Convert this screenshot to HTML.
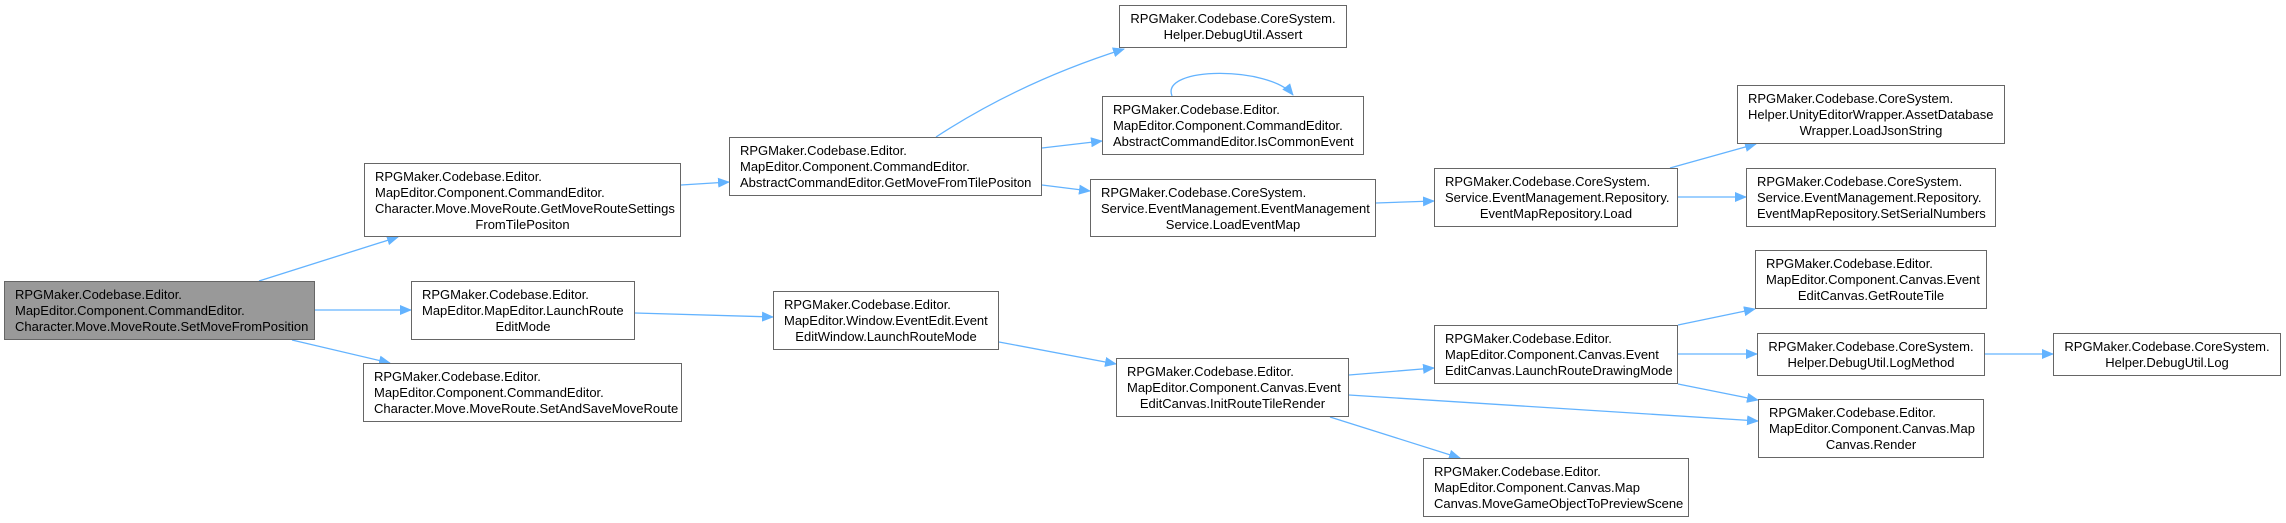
<!DOCTYPE html>
<html><head><meta charset="utf-8"><style>
body{margin:0;width:2286px;height:523px;background:#fff;position:relative;overflow:hidden;font-family:"Liberation Sans",Arial,sans-serif;}
.n{position:absolute;box-sizing:border-box;border:1px solid #666;background:#fff;padding:5px 0 0 0;font-size:13px;line-height:16px;color:#000;white-space:nowrap;}
.n div{padding:0 6px 0 10px;}
.n .c{text-align:center;padding:0 6px;}
svg{position:absolute;left:0;top:0;}
</style></head><body>
<svg width="2286" height="523" viewBox="0 0 2286 523">
<defs><marker id="a" markerWidth="12" markerHeight="10" refX="11" refY="5" orient="auto" markerUnits="userSpaceOnUse"><path d="M0,0 L12,5 L0,10 z" fill="#63b3ff"/></marker></defs>
<g stroke="#63b3ff" stroke-width="1.3" fill="none" marker-end="url(#a)">
<line x1="259" y1="281" x2="398" y2="237"/>
<line x1="315" y1="310" x2="411" y2="310"/>
<line x1="292" y1="340" x2="390" y2="363"/>
<line x1="681" y1="185" x2="729" y2="182"/>
<line x1="635" y1="313" x2="773" y2="317"/>
<path d="M936,137 Q1020,82 1124,49"/>
<line x1="1042" y1="148" x2="1102" y2="141"/>
<line x1="1042" y1="185" x2="1090" y2="191"/>
<path d="M1172,96 C1160,66 1270,66 1293,95"/>
<line x1="1376" y1="203" x2="1434" y2="201"/>
<line x1="1670" y1="168" x2="1756" y2="144"/>
<line x1="1678" y1="197" x2="1746" y2="197"/>
<line x1="999" y1="342" x2="1116" y2="364"/>
<line x1="1349" y1="375" x2="1434" y2="368"/>
<line x1="1349" y1="395" x2="1758" y2="421"/>
<line x1="1330" y1="417" x2="1460" y2="458"/>
<line x1="1678" y1="325" x2="1755" y2="309"/>
<line x1="1678" y1="354" x2="1757" y2="354"/>
<line x1="1678" y1="384" x2="1758" y2="400"/>
<line x1="1985" y1="354" x2="2053" y2="354"/>
</g></svg>

<div class="n" style="left:4px;top:281px;width:311px;height:59px;background:#999;"><div>RPGMaker.Codebase.Editor.</div><div>MapEditor.Component.CommandEditor.</div><div>Character.Move.MoveRoute.SetMoveFromPosition</div></div>

<div class="n" style="left:364px;top:163px;width:317px;height:74px;"><div>RPGMaker.Codebase.Editor.</div><div>MapEditor.Component.CommandEditor.</div><div>Character.Move.MoveRoute.GetMoveRouteSettings</div><div class="c">FromTilePositon</div></div>

<div class="n" style="left:411px;top:281px;width:224px;height:59px;"><div>RPGMaker.Codebase.Editor.</div><div>MapEditor.MapEditor.LaunchRoute</div><div class="c">EditMode</div></div>

<div class="n" style="left:363px;top:363px;width:319px;height:59px;"><div>RPGMaker.Codebase.Editor.</div><div>MapEditor.Component.CommandEditor.</div><div>Character.Move.MoveRoute.SetAndSaveMoveRoute</div></div>

<div class="n" style="left:729px;top:137px;width:313px;height:59px;"><div>RPGMaker.Codebase.Editor.</div><div>MapEditor.Component.CommandEditor.</div><div>AbstractCommandEditor.GetMoveFromTilePositon</div></div>

<div class="n" style="left:773px;top:291px;width:226px;height:59px;"><div>RPGMaker.Codebase.Editor.</div><div>MapEditor.Window.EventEdit.Event</div><div class="c">EditWindow.LaunchRouteMode</div></div>

<div class="n" style="left:1119px;top:5px;width:228px;height:43px;"><div class="c">RPGMaker.Codebase.CoreSystem.</div><div class="c">Helper.DebugUtil.Assert</div></div>

<div class="n" style="left:1102px;top:96px;width:262px;height:59px;"><div>RPGMaker.Codebase.Editor.</div><div>MapEditor.Component.CommandEditor.</div><div>AbstractCommandEditor.IsCommonEvent</div></div>

<div class="n" style="left:1090px;top:179px;width:286px;height:58px;"><div>RPGMaker.Codebase.CoreSystem.</div><div>Service.EventManagement.EventManagement</div><div class="c">Service.LoadEventMap</div></div>

<div class="n" style="left:1116px;top:358px;width:233px;height:59px;"><div>RPGMaker.Codebase.Editor.</div><div>MapEditor.Component.Canvas.Event</div><div class="c">EditCanvas.InitRouteTileRender</div></div>

<div class="n" style="left:1434px;top:168px;width:244px;height:59px;"><div>RPGMaker.Codebase.CoreSystem.</div><div>Service.EventManagement.Repository.</div><div class="c">EventMapRepository.Load</div></div>

<div class="n" style="left:1434px;top:325px;width:244px;height:59px;"><div>RPGMaker.Codebase.Editor.</div><div>MapEditor.Component.Canvas.Event</div><div>EditCanvas.LaunchRouteDrawingMode</div></div>

<div class="n" style="left:1423px;top:458px;width:266px;height:59px;"><div>RPGMaker.Codebase.Editor.</div><div>MapEditor.Component.Canvas.Map</div><div>Canvas.MoveGameObjectToPreviewScene</div></div>

<div class="n" style="left:1737px;top:85px;width:268px;height:59px;"><div>RPGMaker.Codebase.CoreSystem.</div><div>Helper.UnityEditorWrapper.AssetDatabase</div><div class="c">Wrapper.LoadJsonString</div></div>

<div class="n" style="left:1746px;top:168px;width:250px;height:59px;"><div>RPGMaker.Codebase.CoreSystem.</div><div>Service.EventManagement.Repository.</div><div>EventMapRepository.SetSerialNumbers</div></div>

<div class="n" style="left:1755px;top:250px;width:232px;height:59px;"><div>RPGMaker.Codebase.Editor.</div><div>MapEditor.Component.Canvas.Event</div><div class="c">EditCanvas.GetRouteTile</div></div>

<div class="n" style="left:1757px;top:333px;width:228px;height:43px;"><div class="c">RPGMaker.Codebase.CoreSystem.</div><div class="c">Helper.DebugUtil.LogMethod</div></div>

<div class="n" style="left:1758px;top:399px;width:226px;height:59px;"><div>RPGMaker.Codebase.Editor.</div><div>MapEditor.Component.Canvas.Map</div><div class="c">Canvas.Render</div></div>

<div class="n" style="left:2053px;top:333px;width:228px;height:43px;"><div class="c">RPGMaker.Codebase.CoreSystem.</div><div class="c">Helper.DebugUtil.Log</div></div>
</body></html>
